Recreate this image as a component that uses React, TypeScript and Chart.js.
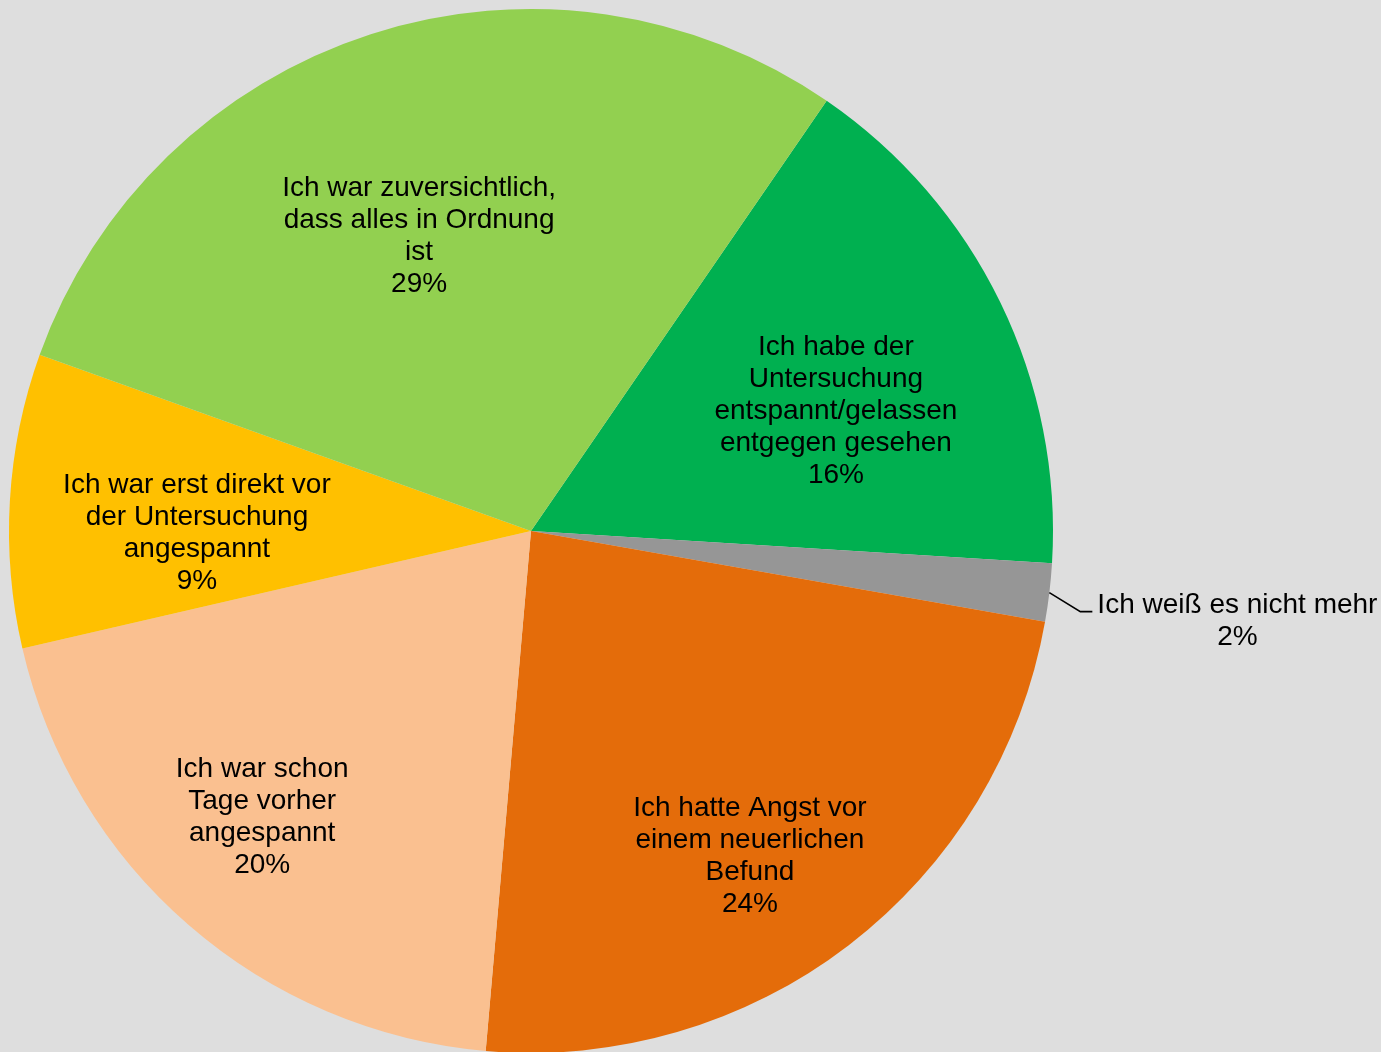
import React, { useEffect, useRef } from "react";
import { Chart, registerables } from "chart.js";

Chart.register(...registerables);

// Data (clockwise, starting at the light-green/green boundary)
const categories: string[][] = [
  ["Ich habe der", "Untersuchung", "entspannt/gelassen", "entgegen gesehen"],
  ["Ich weiß es nicht mehr"],
  ["Ich hatte Angst vor", "einem neuerlichen", "Befund"],
  ["Ich war schon", "Tage vorher", "angespannt"],
  ["Ich war erst direkt vor", "der Untersuchung", "angespannt"],
  ["Ich war zuversichtlich,", "dass alles in Ordnung", "ist"],
];
const values: number[] = [16.4, 1.8, 23.6, 20.0, 9.1, 29.1];
const colors: string[] = ["#00B050", "#969696", "#E46C0A", "#FAC090", "#FFC000", "#92D050"];

// Label placement (radius fraction, angle offset in degrees); null = outside with leader
const labelRadius: (number | null)[] = [0.629, null, 0.748, 0.749, 0.64, 0.607];
const labelAngleOffset: number[] = [4.2, 0, 3.4, 2.45, -3.4, -2.8];

const FONT = '28px "Liberation Sans", Arial, sans-serif';
const LINE_H = 32;
const BASE_SHIFT = 9.8;

const labelPlugin = {
  id: "pieLabels",
  afterDatasetsDraw(chart: any) {
    const ctx = chart.ctx as CanvasRenderingContext2D;
    const meta = chart.getDatasetMeta(0);
    const total = values.reduce((a, b) => a + b, 0);
    ctx.save();
    ctx.font = FONT;
    ctx.fillStyle = "#000000";
    meta.data.forEach((arc: any, i: number) => {
      const { x, y, startAngle, endAngle, outerRadius } = arc.getProps(
        ["x", "y", "startAngle", "endAngle", "outerRadius"],
        true
      );
      const pct = Math.round((values[i] / total) * 100) + "%";
      const lines = [...categories[i], pct];
      const mid = (startAngle + endAngle) / 2;
      const frac = labelRadius[i];
      if (frac !== null) {
        const a = mid + (labelAngleOffset[i] * Math.PI) / 180;
        const cx = x + Math.cos(a) * outerRadius * frac;
        const cy = y + Math.sin(a) * outerRadius * frac;
        ctx.textAlign = "center";
        ctx.textBaseline = "alphabetic";
        const first = cy - ((lines.length - 1) / 2) * LINE_H + BASE_SHIFT;
        lines.forEach((ln, k) => ctx.fillText(ln, cx, first + k * LINE_H));
      } else {
        const ex = x + Math.cos(mid) * outerRadius;
        const ey = y + Math.sin(mid) * outerRadius;
        const bx = ex + 31;
        const by = ey + 19;
        const lx = bx + 12;
        ctx.strokeStyle = "#000000";
        ctx.lineWidth = 1.6;
        ctx.beginPath();
        ctx.moveTo(ex, ey);
        ctx.lineTo(bx, by);
        ctx.lineTo(lx, by);
        ctx.stroke();
        const maxW = Math.max(...lines.map((l) => ctx.measureText(l).width));
        const tx = lx + 5 + maxW / 2;
        ctx.textAlign = "center";
        ctx.textBaseline = "alphabetic";
        const cy = by + 8;
        const first = cy - ((lines.length - 1) / 2) * LINE_H + BASE_SHIFT;
        lines.forEach((ln, k) => ctx.fillText(ln, tx, first + k * LINE_H));
      }
    });
    ctx.restore();
  },
};

export default function App() {
  const ref = useRef<HTMLCanvasElement | null>(null);
  useEffect(() => {
    document.body.style.margin = "0";
    if (!ref.current) return;
    const chart = new Chart(ref.current, {
      type: "pie",
      data: {
        labels: categories.map((c) => c.join(" ")),
        datasets: [
          {
            data: values,
            backgroundColor: colors,
            borderWidth: 0,
            hoverOffset: 0,
          },
        ],
      },
      options: {
        animation: false,
        responsive: true,
        maintainAspectRatio: false,
        events: [],
        rotation: 34.5,
        radius: 522,
        layout: { padding: { left: 9, right: 328, top: 10, bottom: 0 } },
        plugins: { legend: { display: false }, tooltip: { enabled: false } },
      },
      plugins: [labelPlugin],
    });
    return () => chart.destroy();
  }, []);
  return (
    <div
      style={{
        position: "absolute",
        left: 0,
        top: 0,
        width: 1381,
        height: 1052,
        background: "#DEDEDE",
        overflow: "hidden",
      }}
    >
      <canvas ref={ref} />
    </div>
  );
}
